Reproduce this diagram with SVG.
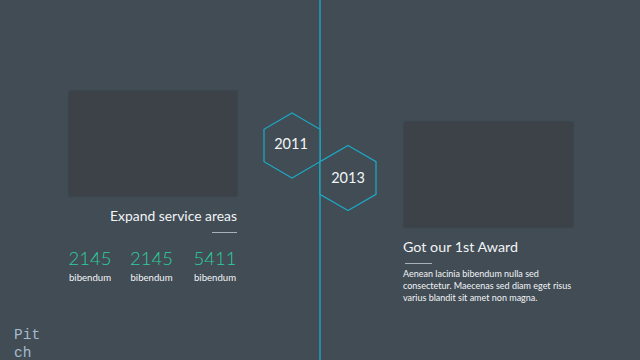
<svg xmlns="http://www.w3.org/2000/svg" width="640" height="360" viewBox="0 0 640 360">
<defs>
<style>
.t{font-family:Lato,"Open Sans","Liberation Sans",sans-serif;fill:#f2f4f5}
.num{font-family:Lato,"Open Sans","Liberation Sans",sans-serif;font-weight:300;font-size:18.5px;fill:#2fcc9c;text-anchor:middle}
.lab{font-family:Lato,"Open Sans","Liberation Sans",sans-serif;font-size:9.6px;fill:#f2f4f5;text-anchor:middle}
.hex{fill:#414c55;stroke:#1ea6c3;stroke-width:1.3}
.ph{fill:#3e4248}
.rule{stroke:#a9b0b6;stroke-width:1}
</style>
<filter id="sh" x="-10%" y="-10%" width="120%" height="120%"><feGaussianBlur in="SourceAlpha" stdDeviation="1"/><feOffset dy="0"/><feComponentTransfer><feFuncA type="linear" slope="0.3"/></feComponentTransfer><feMerge><feMergeNode/><feMergeNode in="SourceGraphic"/></feMerge></filter>
</defs>
<rect width="640" height="360" fill="#414c55"/>
<g id="connectors">
<line x1="320" y1="0" x2="320" y2="360" stroke="#1ea6c3" stroke-width="1.4"/>
</g>
<g id="left-image"><rect class="ph" x="69" y="91" width="168" height="105" filter="url(#sh)"/></g>
<g id="right-image"><rect class="ph" x="404" y="122" width="169" height="105" filter="url(#sh)"/></g>
<g id="hex-2011">
<polygon class="hex" points="292,113 320,129.3 320,161.7 292,178 264,161.7 264,129.3"/>
<text class="t" x="291" y="148.5" font-size="14.5" text-anchor="middle">2011</text>
</g>
<g id="hex-2013">
<polygon class="hex" points="348,145.5 376,161.7 376,194.3 348,210.5 320,194.3 320,161.7"/>
<text class="t" x="348" y="182.5" font-size="14.5" text-anchor="middle">2013</text>
</g>
<g id="expand">
<text class="t" x="237" y="220.5" font-size="13.9" text-anchor="end">Expand service areas</text>
<line class="rule" x1="212" y1="232.5" x2="237" y2="232.5"/>
<text class="num" x="90" y="265">2145</text>
<text class="lab" x="90" y="281">bibendum</text>
<text class="num" x="151.5" y="265">2145</text>
<text class="lab" x="151.5" y="281">bibendum</text>
<text class="num" x="215" y="265">5411</text>
<text class="lab" x="215" y="281">bibendum</text>
</g>
<g id="award">
<text class="t" x="403" y="251.5" font-size="14.3">Got our 1st Award</text>
<line class="rule" x1="405" y1="263.5" x2="432" y2="263.5"/>
<text class="t" font-size="9">
<tspan x="403" y="276.5">Aenean lacinia bibendum nulla sed</tspan>
<tspan x="403" y="288.5">consectetur. Maecenas sed diam eget risus</tspan>
<tspan x="403" y="300.5">varius blandit sit amet non magna.</tspan>
</text>
</g>
<g id="pitch">
<text font-family="'Liberation Mono','DejaVu Sans Mono',monospace" font-size="14.5" fill="#a6bacd">
<tspan x="14" y="339">Pit</tspan>
<tspan x="14" y="357">ch</tspan>
</text>
</g>
</svg>
